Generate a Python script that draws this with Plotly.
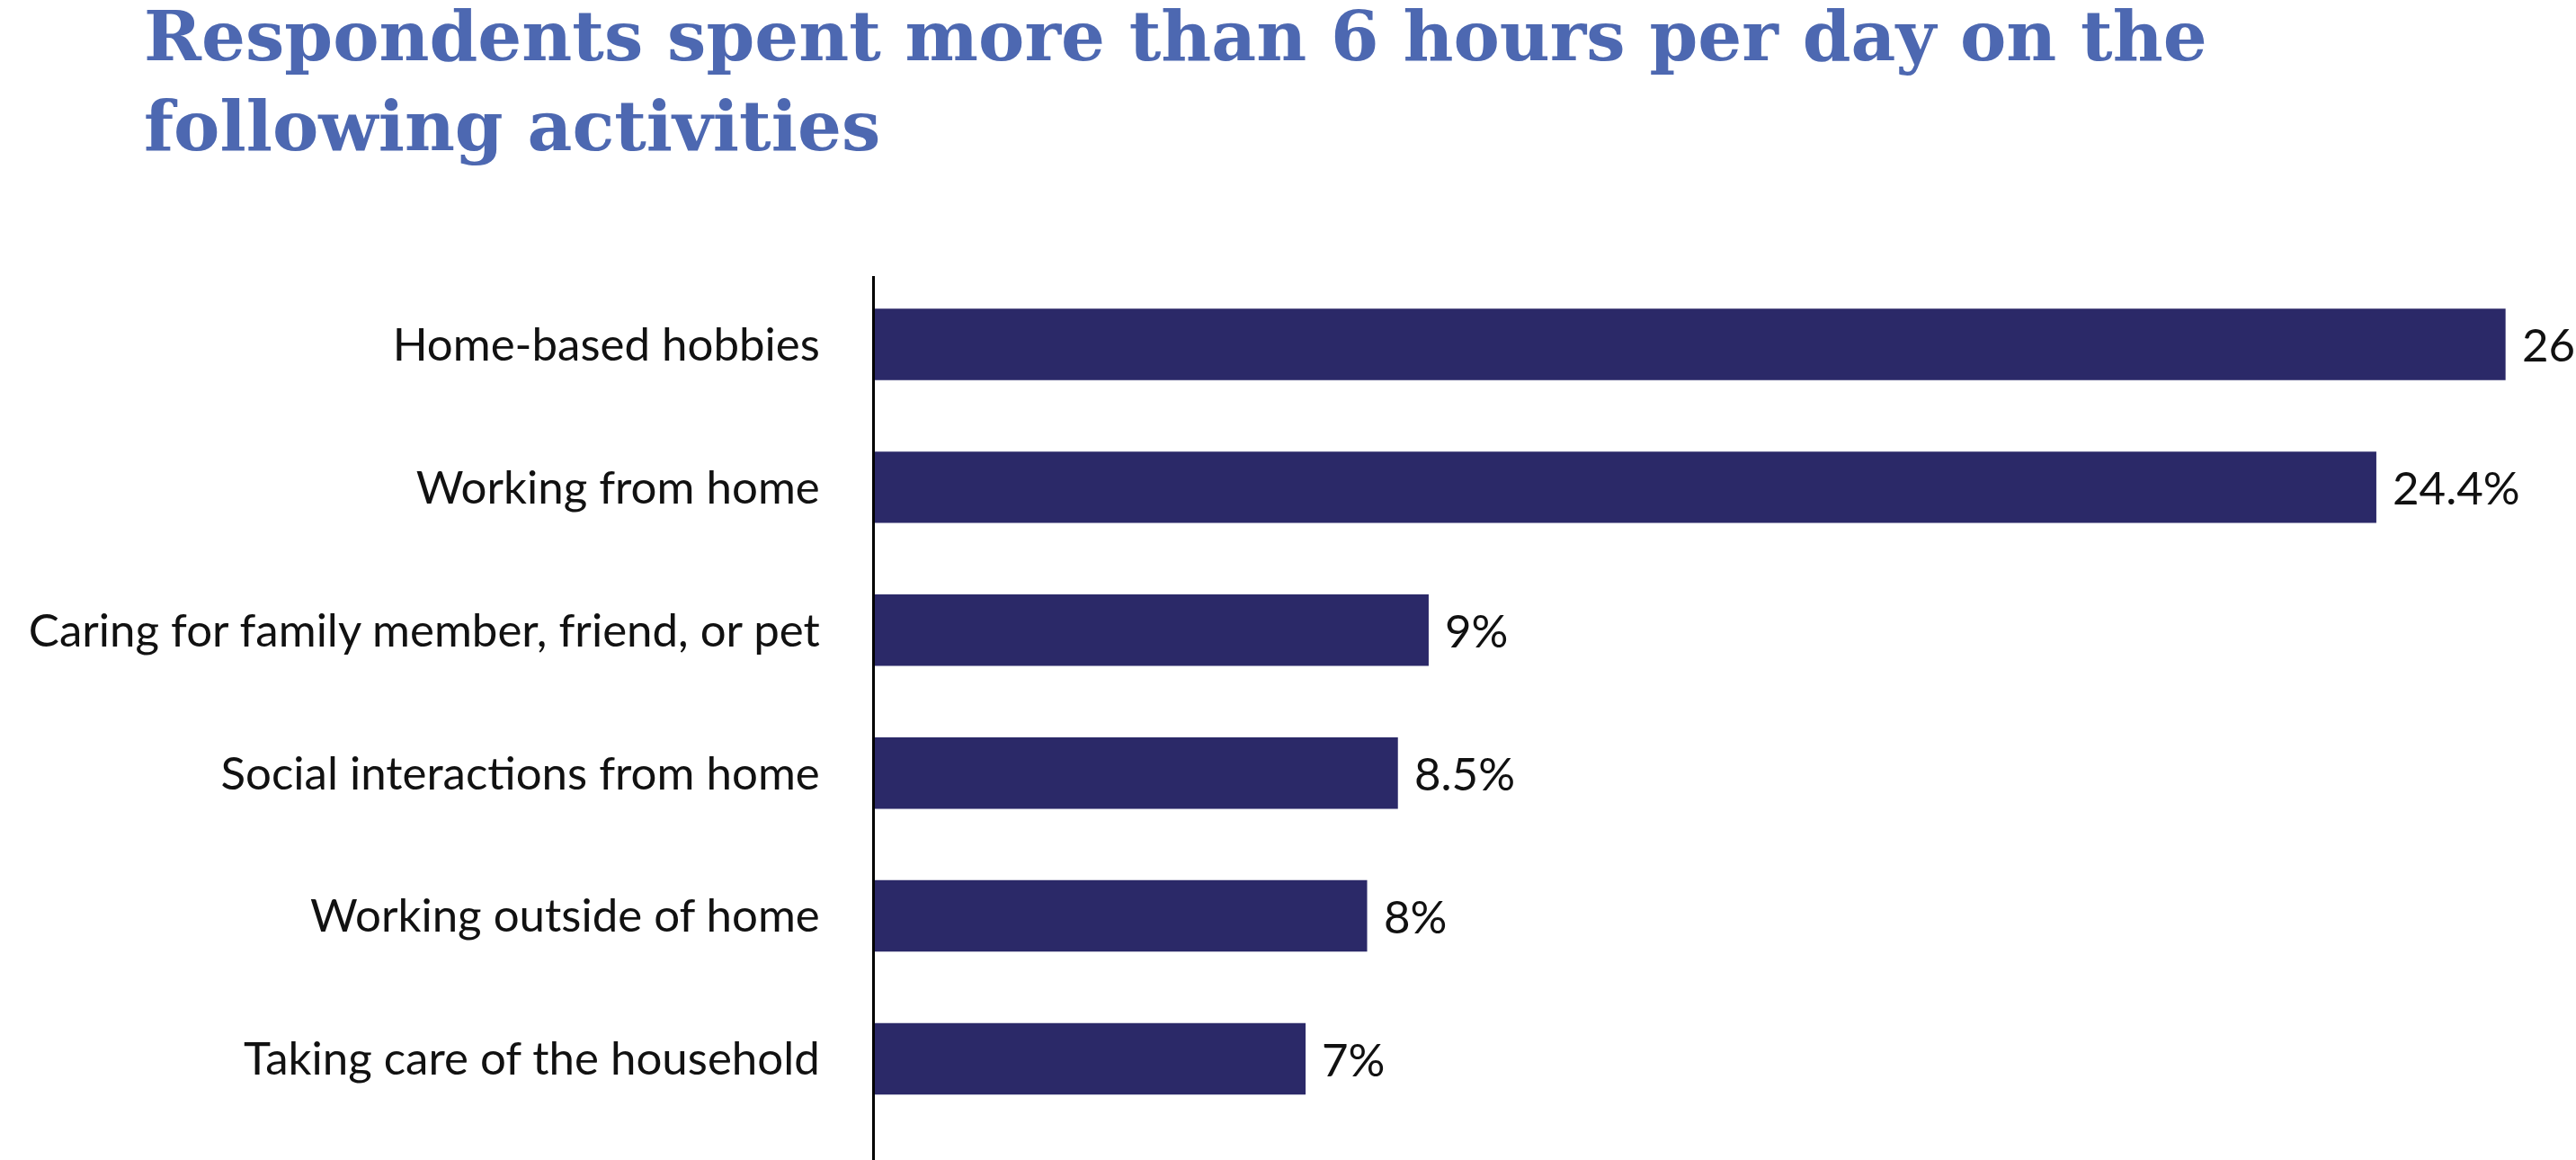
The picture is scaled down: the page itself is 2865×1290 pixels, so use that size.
import plotly.graph_objects as go

# Share of respondents spending more than 6 hours a day on each activity
activities = [
    "Home-based hobbies",
    "Working from home",
    "Caring for family member, friend, or pet",
    "Social interactions from home",
    "Working outside of home",
    "Taking care of the household",
]
shares = [26.5, 24.4, 9, 8.5, 8, 7]

title_text = "Respondents spent more than 6 hours per day on the<br>following activities"

BAR_COLOR = "#2b2968"
TITLE_COLOR = "#4d68b1"
W, H = 2865, 1290
L, T = 973, 307
PX_PER_PCT = 68.44

fig = go.Figure(
    go.Bar(
        x=shares,
        y=activities,
        orientation="h",
        marker=dict(color=BAR_COLOR, line=dict(width=0)),
        width=0.5,
        hoverinfo="skip",
    )
)

# Value labels to the right of each bar
for a, v in zip(activities, shares):
    fig.add_annotation(
        x=v, y=a, xref="x", yref="y",
        text=f"{v:g}%",
        showarrow=False,
        xanchor="left", yanchor="middle",
        xshift=16,
        font=dict(family="Lato", size=51, color="#111111"),
    )

# Two-line heading in the top-left corner
plot_h = H - T
fig.add_annotation(
    text=title_text,
    xref="paper", yref="paper",
    x=(158 - L) / (W - L), y=1 + (T + 7) / plot_h,
    xanchor="left", yanchor="top", align="left",
    showarrow=False,
    font=dict(family="DejaVu Serif", size=77, color=TITLE_COLOR, weight="bold"),
)

fig.update_layout(
    width=W, height=H,
    paper_bgcolor="white", plot_bgcolor="white",
    margin=dict(l=L, r=0, t=T, b=0, pad=0),
    showlegend=False,
)

fig.update_xaxes(
    range=[0, (W - L) / PX_PER_PCT],
    visible=False,
    showgrid=False, zeroline=False,
)
fig.update_yaxes(
    type="category",
    categoryorder="array", categoryarray=activities,
    range=[5.708, -0.478],
    showline=True, linecolor="#000000", linewidth=3,
    showgrid=False, zeroline=False,
    ticks="", ticklabelstandoff=48,
    tickfont=dict(family="Lato", size=51, color="#111111"),
)

fig.write_html("out.html")
